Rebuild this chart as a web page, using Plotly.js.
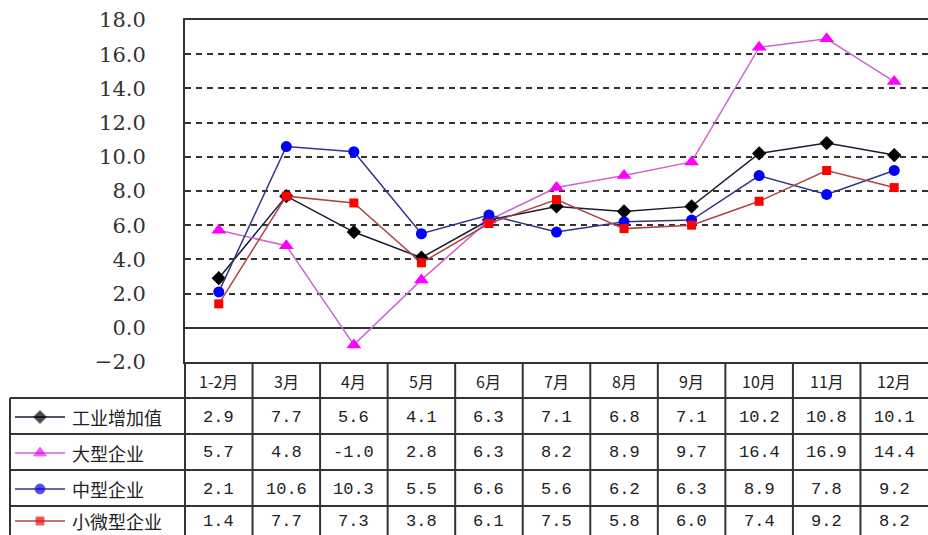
<!DOCTYPE html>
<html>
<head>
<meta charset="utf-8">
<script src="https://cdn.plot.ly/plotly-3.0.1.min.js"></script>
<style>html,body{margin:0;padding:0;background:#fff;overflow:hidden}#chart{width:928px;height:535px}</style>
</head>
<body>
<div id="chart"></div>
<script>
// ---- data ----
const months = ['1-2月','3月','4月','5月','6月','7月','8月','9月','10月','11月','12月'];
const seriesNames = ['工业增加值','大型企业','中型企业','小微型企业'];
const industryValueAdded = [2.9,7.7,5.6,4.1,6.3,7.1,6.8,7.1,10.2,10.8,10.1];
const largeEnterprises  = [5.7,4.8,-1.0,2.8,6.3,8.2,8.9,9.7,16.4,16.9,14.4];
const mediumEnterprises = [2.1,10.6,10.3,5.5,6.6,5.6,6.2,6.3,8.9,7.8,9.2];
const smallEnterprises  = [1.4,7.7,7.3,3.8,6.1,7.5,5.8,6.0,7.4,9.2,8.2];
const yTicks = [-2,0,2,4,6,8,10,12,14,16,18];

// ---- layout helpers (pixel -> paper) ----
const W = 928, H = 535;
const px = x => x / W;
const py = y => (H - y) / H;
const plotLeft = 185, plotTop = 20, plotBottom = 362;
const rowLines = [398, 434, 470, 506];
const rowCenters = [417, 453, 489, 521];
const headerCenter = 381;
const lineColor = '#333';

const allSeries = [industryValueAdded, largeEnterprises, mediumEnterprises, smallEnterprises];
const styles = [
  {line:'#1a1a33', marker:'#000000', symbol:'diamond', size:11},
  {line:'#cc66cc', marker:'#ff00ff', symbol:'triangle-up', size:13},
  {line:'#333388', marker:'#0000ff', symbol:'circle', size:11},
  {line:'#b04444', marker:'#ff0000', symbol:'square', size:9}
];
const xIdx = months.map((m,i)=>i);

const traces = [];
allSeries.forEach((vals, s) => {
  traces.push({
    type:'scatter', mode:'lines+markers', x:xIdx, y:vals, name:seriesNames[s],
    line:{color:styles[s].line, width:1.5},
    marker:{color:styles[s].marker, symbol:styles[s].symbol, size:styles[s].size},
    hoverinfo:'skip', cliponaxis:false
  });
});
// legend samples in the table's first column
allSeries.forEach((vals, s) => {
  traces.push({
    type:'scatter', mode:'lines+markers', x:[15,40,65], y:[rowCenters[s],rowCenters[s],rowCenters[s]],
    xaxis:'x2', yaxis:'y2',
    line:{color:styles[s].line, width:1.5},
    marker:{color:styles[s].marker, symbol:styles[s].symbol, size:[0, styles[s].size-1, 0]},
    hoverinfo:'skip'
  });
});

const shapes = [];
// horizontal table lines
rowLines.forEach(y => shapes.push({type:'line', xref:'paper', yref:'paper', x0:px(10), x1:1, y0:py(y), y1:py(y), line:{color:lineColor, width:2}}));
// left border of plot+table
shapes.push({type:'line', xref:'paper', yref:'paper', x0:px(plotLeft), x1:px(plotLeft), y0:py(plotBottom), y1:0, line:{color:lineColor, width:2}});
// left border of legend column
shapes.push({type:'line', xref:'paper', yref:'paper', x0:px(10), x1:px(10), y0:py(rowLines[0]), y1:0, line:{color:lineColor, width:2}});
// column separators
for (let k = 1; k < months.length; k++) {
  shapes.push({type:'line', xref:'x', yref:'paper', x0:k-0.5, x1:k-0.5, y0:py(plotBottom), y1:0, line:{color:lineColor, width:2}});
}

const annotations = [];
months.forEach((m,i) => annotations.push({xref:'x', yref:'paper', x:i, y:py(headerCenter), text:m, showarrow:false,
  xanchor:'center', yanchor:'middle', font:{family:'Noto Sans CJK SC', size:16, color:'#222'}}));
seriesNames.forEach((n,s) => {
  annotations.push({xref:'paper', yref:'paper', x:px(70), y:py(rowCenters[s]), text:n, xanchor:'left', yanchor:'middle', showarrow:false,
    font:{family:'Noto Sans CJK SC', size:18, color:'#222'}});
  allSeries[s].forEach((v,i) => annotations.push({xref:'x', yref:'paper', x:i, y:py(rowCenters[s]), text:v.toFixed(1), showarrow:false,
    xanchor:'center', yanchor:'middle', font:{family:'Liberation Mono', size:17, color:'#222'}}));
});

const layout = {
  width:W, height:H, margin:{l:0,r:0,t:0,b:0}, paper_bgcolor:'#fff', plot_bgcolor:'#fff', showlegend:false,
  xaxis:{domain:[px(plotLeft),1], range:[-0.5,10.5], showticklabels:false, showgrid:false, zeroline:false,
    showline:true, mirror:true, linecolor:lineColor, linewidth:2, ticks:'', fixedrange:true},
  yaxis:{domain:[py(plotBottom), py(plotTop)], range:[-2,18], tickvals:yTicks, tickformat:'.1f',
    showgrid:true, gridcolor:lineColor, griddash:'6px,5px', gridwidth:2,
    zeroline:true, zerolinecolor:lineColor, zerolinewidth:2,
    showline:true, linecolor:lineColor, linewidth:2, ticks:'', ticklabelstandoff:33,
    tickfont:{family:'DejaVu Serif', size:21, color:'#333'}, fixedrange:true},
  xaxis2:{domain:[0,px(plotLeft)], range:[0,plotLeft], visible:false, anchor:'y2', fixedrange:true},
  yaxis2:{domain:[0,py(plotBottom)], range:[H,plotBottom], visible:false, anchor:'x2', fixedrange:true},
  shapes:shapes, annotations:annotations
};
Plotly.newPlot('chart', traces, layout, {displayModeBar:false, staticPlot:true});
</script>
</body>
</html>
